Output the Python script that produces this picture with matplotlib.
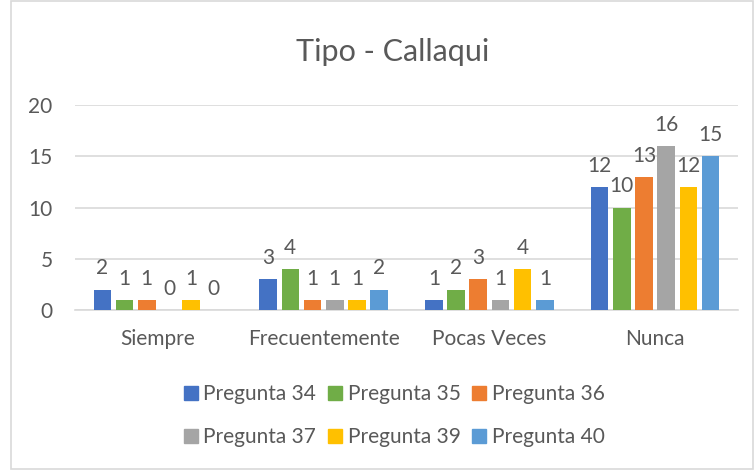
import numpy as np
import matplotlib
matplotlib.use("Agg")
import matplotlib.pyplot as plt
from matplotlib.patches import Rectangle
from matplotlib.lines import Line2D

plt.rcParams['font.family'] = ['Lato', 'DejaVu Sans']

categorias = ['Siempre', 'Frecuentemente', 'Pocas Veces', 'Nunca']
series = ['Pregunta 34', 'Pregunta 35', 'Pregunta 36',
          'Pregunta 37', 'Pregunta 39', 'Pregunta 40']
p34 = [2, 3, 1, 12]
p35 = [1, 4, 2, 10]
p36 = [1, 1, 3, 13]
p37 = [0, 1, 1, 16]
p39 = [1, 1, 4, 12]
p40 = [0, 2, 1, 15]
valores = [p34, p35, p36, p37, p39, p40]
colores = ['#4472C4', '#70AD47', '#ED7D31', '#A5A5A5', '#FFC000', '#5B9BD5']

texto = '#595959'

fig = plt.figure(figsize=(7.55, 4.70), dpi=100)
ax = fig.add_axes([0.0993, 0.3404, 0.8782, 0.4362])

x = np.arange(len(categorias))
paso = 0.134
ancho = 0.106
for i, (nombre, vals) in enumerate(zip(series, valores)):
    pos = x + (i - 2.5) * paso
    barras = ax.bar(pos, vals, ancho, color=colores[i], label=nombre, zorder=3)
    for b, v in zip(barras, vals):
        ax.annotate(str(v), (b.get_x() + b.get_width() / 2, v),
                    xytext=(0, 8), textcoords='offset points',
                    ha='center', va='bottom', fontsize=15, color=texto)

ax.set_xlim(-0.5, 3.5)
ax.set_ylim(0, 20)
ax.set_yticks([0, 5, 10, 15, 20])
ax.set_xticks(x)
ax.set_xticklabels(categorias)
ax.grid(axis='y', color='#D9D9D9', linewidth=1.2, zorder=0)
for s in ['top', 'right', 'left']:
    ax.spines[s].set_visible(False)
ax.spines['bottom'].set_color('#D9D9D9')
ax.spines['bottom'].set_linewidth(1.2)
ax.tick_params(axis='both', length=0, labelsize=15, colors=texto)
ax.tick_params(axis='x', pad=14)
ax.tick_params(axis='y', pad=16)

fig.text(0.52, 0.89, 'Tipo - Callaqui', ha='center', va='center',
         fontsize=22, color=texto)

# legend filled by columns, so reorder to read row by row
orden = [0, 3, 1, 4, 2, 5]
handles = [Line2D([], [], marker='s', linestyle='none', markersize=10,
                  markerfacecolor=colores[i], markeredgecolor=colores[i]) for i in orden]
etiquetas = [series[i] for i in orden]
fig.legend(handles, etiquetas, loc='center', bbox_to_anchor=(0.52, 0.115),
           ncol=3, frameon=False, fontsize=15, labelcolor=texto,
           handletextpad=0.1, columnspacing=0.4, labelspacing=1.1,
           handlelength=1.0)

fig.patches.append(Rectangle((0.0146, 0.002), 0.983, 0.996, transform=fig.transFigure,
                             fill=False, edgecolor='#D9D9D9', linewidth=1.2))

fig.savefig('out.png', dpi=100)
